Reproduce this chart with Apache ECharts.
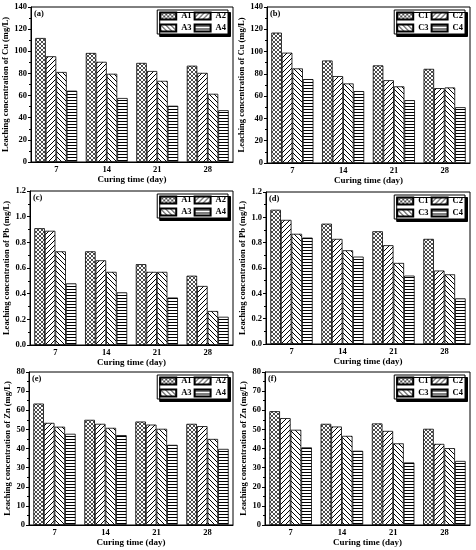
<!DOCTYPE html>
<html><head><meta charset="utf-8">
<script src="https://cdn.jsdelivr.net/npm/echarts@6/dist/echarts.min.js"></script>
<style>html,body{margin:0;padding:0;background:#fff}#c{width:476px;height:550px}</style>
</head><body><div id="c"></div>
<script>
// ---------- DATA ----------
const categories = ['7', '14', '21', '28'];
const namesA = ['A1', 'A2', 'A3', 'A4'];
const namesC = ['C1', 'C2', 'C3', 'C4'];
// each row = one series (A1..A4 / C1..C4) across curing times 7,14,21,28
const cuA = [[112, 98.5, 89.5, 87], [95.5, 90.5, 82.2, 80.5], [81.3, 79.7, 73.3, 61.6], [64.4, 57.8, 50.8, 46.8]];
const cuC = [[117, 92, 87.6, 84.5], [99, 78, 74.3, 67.2], [84.9, 71.4, 68.8, 67.8], [75.3, 64.5, 56.4, 50.1]];
const pbA = [[0.91, 0.73, 0.63, 0.54], [0.89, 0.66, 0.57, 0.46], [0.73, 0.57, 0.57, 0.265], [0.48, 0.41, 0.37, 0.22]];
const pbC = [[1.06, 0.95, 0.89, 0.83], [0.98, 0.83, 0.78, 0.58], [0.87, 0.74, 0.64, 0.55], [0.84, 0.69, 0.54, 0.36]];
const znA = [[63.5, 55, 54.1, 52.9], [53.4, 52.9, 52.5, 51.7], [51.4, 50.8, 50.3, 45], [47.7, 47, 41.9, 39.8]];
const znC = [[59.5, 52.9, 53.1, 50.3], [55.9, 51.5, 49.2, 42.4], [49.8, 46.6, 42.7, 40.2], [40.6, 38.8, 32.7, 33.5]];
const panelLabels = ['(a)', '(b)', '(c)', '(d)', '(e)', '(f)'];
const yNames = ['Leaching concentration of Cu (mg/L)', 'Leaching concentration of Cu (mg/L)',
  'Leaching concentration of Pb (mg/L)', 'Leaching concentration of Pb (mg/L)',
  'Leaching concentration of Zn (mg/L)', 'Leaching concentration of Zn (mg/L)'];
const xName = 'Curing time (day)';
const yMax = [140, 140, 1.2, 1.2, 80, 80];
const yStep = [20, 20, 0.2, 0.2, 10, 10];
const yDecimals = [0, 0, 1, 1, 0, 0];

// ---------- LAYOUT ----------
const panelData = [cuA, cuC, pbA, pbC, znA, znC];
const panelNames = [namesA, namesC, namesA, namesC, namesA, namesC];
const boxes = [[31, 7, 202, 155], [267, 7, 203, 156], [30, 191, 203, 154], [266, 192, 204, 152], [29, 372, 204, 153], [265, 372, 205, 153]];
const W = 476;
const FONT = '"Liberation Serif", "DejaVu Serif", serif';

function makePattern(kind) {
  const c = document.createElement('canvas');
  let w = 5, h = 5;
  if (kind === 'cross') { w = 4; h = 4; }
  if (kind === 'horiz') { w = 4; h = 3; }
  c.width = w; c.height = h;
  const g = c.getContext('2d');
  g.fillStyle = '#fff'; g.fillRect(0, 0, w, h);
  g.strokeStyle = '#000'; g.fillStyle = '#000';
  g.lineWidth = kind === 'cross' ? 0.7 : 1.0;
  const line = (x1, y1, x2, y2) => { g.beginPath(); g.moveTo(x1, y1); g.lineTo(x2, y2); g.stroke(); };
  if (kind === 'cross' || kind === 'fwd') {
    line(-1, h + 1, w + 1, -1); line(-1, 1, 1, -1); line(w - 1, h + 1, w + 1, h - 1);
  }
  if (kind === 'cross' || kind === 'back') {
    line(-1, -1, w + 1, h + 1); line(-1, h - 1, 1, h + 1); line(w - 1, -1, w + 1, 1);
  }
  if (kind === 'horiz') { g.fillRect(0, 1, w, 1); }
  return { image: c, repeat: 'repeat' };
}
const patterns = [makePattern('cross'), makePattern('fwd'), makePattern('back'), makePattern('horiz')];

const grid = [], xAxis = [], yAxis = [], series = [], legend = [], title = [];
boxes.forEach((b, i) => {
  const [l, t, w, h] = b;
  grid.push({ left: l, top: t, width: w, height: h, show: true, borderColor: '#000', borderWidth: 1, backgroundColor: 'transparent' });
  xAxis.push({
    type: 'category', gridIndex: i, data: categories,
    name: xName, nameLocation: 'middle', nameGap: 13,
    nameTextStyle: { fontFamily: FONT, fontWeight: 'bold', fontSize: 9, color: '#000' },
    axisLine: { lineStyle: { color: '#000', width: 1 } },
    axisTick: { alignWithLabel: true, length: 3, lineStyle: { color: '#000' } },
    axisLabel: { fontFamily: FONT, fontWeight: 'bold', fontSize: 8.5, color: '#000', margin: 3 },
    splitLine: { show: false }
  });
  yAxis.push({
    type: 'value', gridIndex: i, min: 0, max: yMax[i], interval: yStep[i],
    name: yNames[i], nameLocation: 'middle', nameGap: 17,
    nameTextStyle: { fontFamily: FONT, fontWeight: 'bold', fontSize: 8.5, color: '#000' },
    axisLine: { show: true, lineStyle: { color: '#000', width: 1 } },
    axisTick: { show: true, length: 3, lineStyle: { color: '#000' } },
    minorTick: { show: true, splitNumber: 2, length: 2, lineStyle: { color: '#000' } },
    axisLabel: { fontFamily: FONT, fontWeight: 'bold', fontSize: 8.5, color: '#000', margin: 4,
      formatter: v => v.toFixed(yDecimals[i]) },
    splitLine: { show: false }
  });
  panelData[i].forEach((vals, j) => {
    series.push({
      type: 'bar', name: panelNames[i][j], xAxisIndex: i, yAxisIndex: i, data: vals,
      barGap: '0%', barCategoryGap: '17%',
      itemStyle: { color: patterns[j], borderColor: '#000', borderWidth: 0.8 },
      emphasis: { disabled: true }
    });
  });
  legend.push({
    data: panelNames[i], orient: 'horizontal', width: 68,
    right: W - (l + w - 5), top: t + 3,
    itemWidth: 16, itemHeight: 7, itemGap: 2, icon: 'rect',
    padding: [1, 2, 1, 2],
    backgroundColor: '#fff', borderColor: '#000', borderWidth: 1,
    shadowColor: '#000', shadowOffsetX: 2.5, shadowOffsetY: 2.5, shadowBlur: 0,
    selectedMode: false,
    textStyle: { fontFamily: FONT, fontWeight: 'bold', fontSize: 8.5, color: '#000', lineHeight: 10 }
  });
  title.push({
    text: panelLabels[i], left: l + 2, top: t + 1, padding: 1,
    textStyle: { fontFamily: FONT, fontWeight: 'bold', fontSize: 8.5, color: '#000' }
  });
});

const chart = echarts.init(document.getElementById('c'), null, { renderer: 'canvas' });
chart.setOption({ backgroundColor: '#fff', animation: false, grid, xAxis, yAxis, series, legend, title });
</script>
</body></html>
